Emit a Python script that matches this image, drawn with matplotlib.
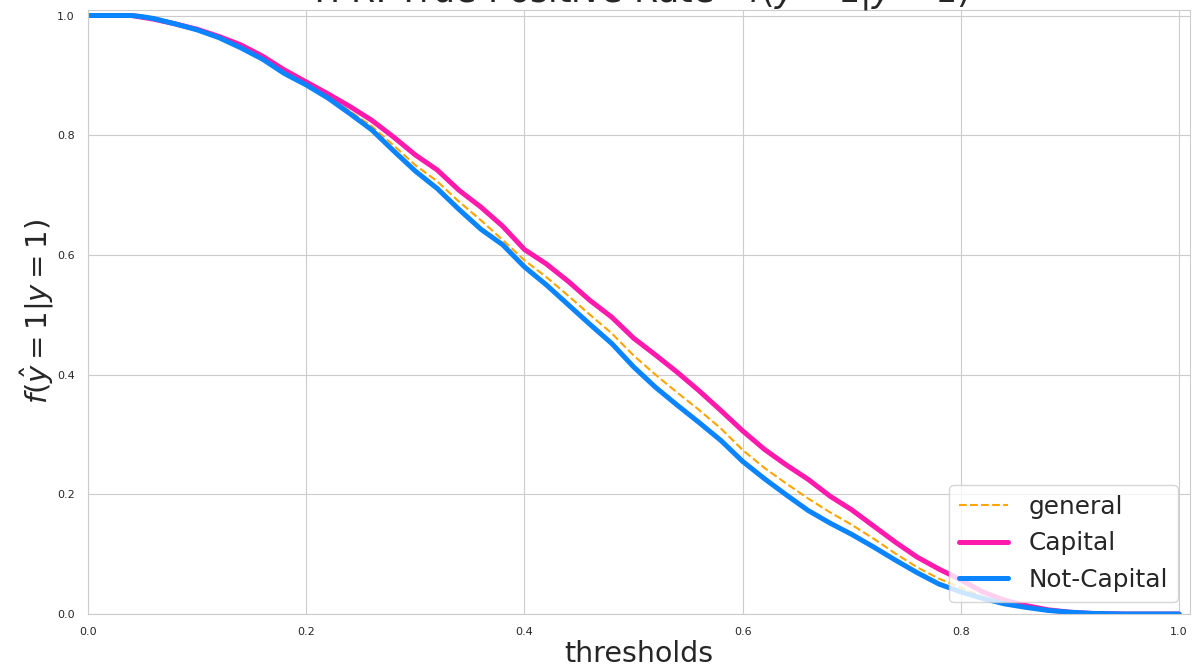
import matplotlib
matplotlib.use('Agg')
import matplotlib.pyplot as plt
import seaborn as sns

# thresholds and TPR curves
thresholds = [0.00, 0.04, 0.05, 0.06, 0.08, 0.10, 0.12, 0.14, 0.16, 0.18,
              0.20, 0.22, 0.24, 0.26, 0.28, 0.30, 0.32, 0.34, 0.36, 0.38,
              0.40, 0.42, 0.44, 0.46, 0.48, 0.50, 0.52, 0.54, 0.56, 0.58,
              0.60, 0.62, 0.64, 0.66, 0.68, 0.70, 0.72, 0.74, 0.76, 0.78,
              0.80, 0.82, 0.84, 0.86, 0.88, 0.90, 0.92, 0.95, 1.00]

tpr_general = [1.000, 1.000, 0.998, 0.995, 0.986, 0.976, 0.964, 0.948, 0.929, 0.905,
               0.886, 0.864, 0.840, 0.815, 0.783, 0.750, 0.723, 0.689, 0.658, 0.625,
               0.591, 0.563, 0.532, 0.500, 0.469, 0.432, 0.400, 0.370, 0.341, 0.310,
               0.274, 0.244, 0.218, 0.193, 0.170, 0.149, 0.126, 0.101, 0.078, 0.059,
               0.044, 0.029, 0.019, 0.012, 0.006, 0.003, 0.001, 0.000, 0.000]

tpr_capital = [1.000, 1.000, 0.997, 0.994, 0.986, 0.977, 0.965, 0.951, 0.932, 0.909,
               0.889, 0.869, 0.848, 0.825, 0.797, 0.767, 0.742, 0.708, 0.680, 0.648,
               0.609, 0.585, 0.556, 0.524, 0.496, 0.461, 0.433, 0.404, 0.373, 0.340,
               0.306, 0.275, 0.249, 0.225, 0.197, 0.174, 0.147, 0.120, 0.095, 0.075,
               0.057, 0.037, 0.023, 0.014, 0.007, 0.003, 0.001, 0.000, 0.000]

tpr_notcapital = [1.000, 1.000, 0.998, 0.995, 0.986, 0.976, 0.963, 0.946, 0.927, 0.903,
                  0.884, 0.862, 0.836, 0.809, 0.774, 0.740, 0.711, 0.676, 0.643, 0.617,
                  0.580, 0.550, 0.517, 0.484, 0.452, 0.413, 0.379, 0.349, 0.320, 0.290,
                  0.255, 0.226, 0.199, 0.173, 0.152, 0.133, 0.112, 0.090, 0.069, 0.050,
                  0.037, 0.026, 0.017, 0.011, 0.006, 0.003, 0.001, 0.000, 0.000]

sns.set_style('whitegrid')

fig = plt.figure(figsize=(11.93, 6.71), dpi=100)
ax = fig.add_axes([0.0738, 0.0849, 0.9237, 0.9009])

ax.plot(thresholds, tpr_general, '--', color='orange', lw=1.5, label='general')
ax.plot(thresholds, tpr_capital, color='#ff1aad', lw=3.6, label='Capital')
ax.plot(thresholds, tpr_notcapital, color='#0a84ff', lw=3.6, label='Not-Capital')

ax.set_xlim(0, 1.01)
ax.set_ylim(0, 1.01)
ax.tick_params(labelsize=8, pad=6, colors='.15')
ax.set_title(r'TPR: True Positive Rate - $f(\hat{y}=1|y=1)$', fontsize=25, pad=5)
ax.set_xlabel('thresholds', fontsize=20.5, labelpad=2)
ax.set_ylabel(r'$f(\hat{y}=1|y=1)$', fontsize=21, labelpad=1)
ax.legend(loc='lower right', fontsize=17.8)

fig.savefig('out.png', dpi=100)
